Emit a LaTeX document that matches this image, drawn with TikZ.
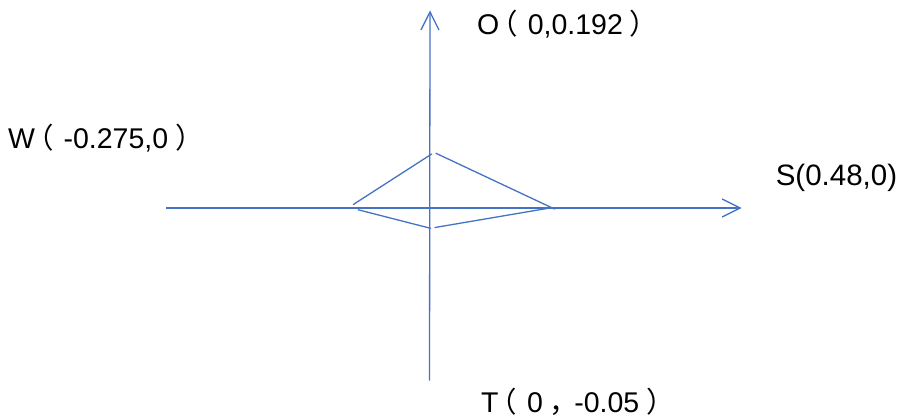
\documentclass[tikz,border=0pt]{standalone}
\usepackage{fontspec}
\setmainfont{Liberation Sans}
\newfontfamily\cjkfont[RawFeature=+palt]{Noto Sans CJK SC}
\usetikzlibrary{arrows.meta}
\definecolor{axisblue}{HTML}{4472C4}
\newcommand{\fwl}{\makebox[1em][l]{\kern0.12em\cjkfont （}}
\newcommand{\fwr}{\makebox[1em][l]{\kern0.28em\cjkfont ）}}
\newcommand{\fwc}{\makebox[1.1em][l]{\kern0.3em\cjkfont ，}}
\begin{document}
\begin{tikzpicture}[x=1pt,y=-1pt,
  axisline/.style={draw=axisblue,line width=1.3pt},
  axisarrow/.style={axisline,-{Straight Barb[length=18pt,width=18pt,line width=1.3pt]}},
  shapeline/.style={draw=axisblue,line width=1.3pt,line cap=round},
  lbl/.style={anchor=base west,inner sep=0pt,font=\fontsize{28.5}{34}\selectfont}]
\useasboundingbox (0,0) rectangle (899,417);
% axes
\coordinate (vbot) at (429.5,380.5);
\coordinate (vtop) at (430,10.5);
\coordinate (hleft) at (166,208);
\coordinate (hright) at (741.5,208);
\draw[axisarrow] (vbot) -- (vtop);
\draw[axisarrow] (hleft) -- (hright);
% quadrilateral
\coordinate (ul1) at (353.3,204.5);
\coordinate (ul2) at (431.7,154);
\coordinate (ur1) at (436,153.3);
\coordinate (ur2) at (554.5,209);
\coordinate (ll1) at (358.3,209.8);
\coordinate (ll2) at (430.5,228.3);
\coordinate (lr1) at (435,227.5);
\coordinate (lr2) at (551.5,207.7);
\draw[shapeline] (ul1) -- (ul2);
\draw[shapeline] (ur1) -- (ur2);
\draw[shapeline] (ll1) -- (ll2);
\draw[shapeline] (lr1) -- (lr2);
% labels
\node[lbl] (O) at (476.9,35) {O\fwl 0,0.192\fwr};
\node[lbl] (W) at (8,148) {W\fwl -0.275,0\fwr};
\node[lbl,font=\fontsize{29.5}{34}\selectfont] (S) at (775.6,185) {S(0.48,0)};
\node[lbl] (T) at (481,412) {T\fwl 0\fwc -0.05\fwr};
\end{tikzpicture}
\end{document}
